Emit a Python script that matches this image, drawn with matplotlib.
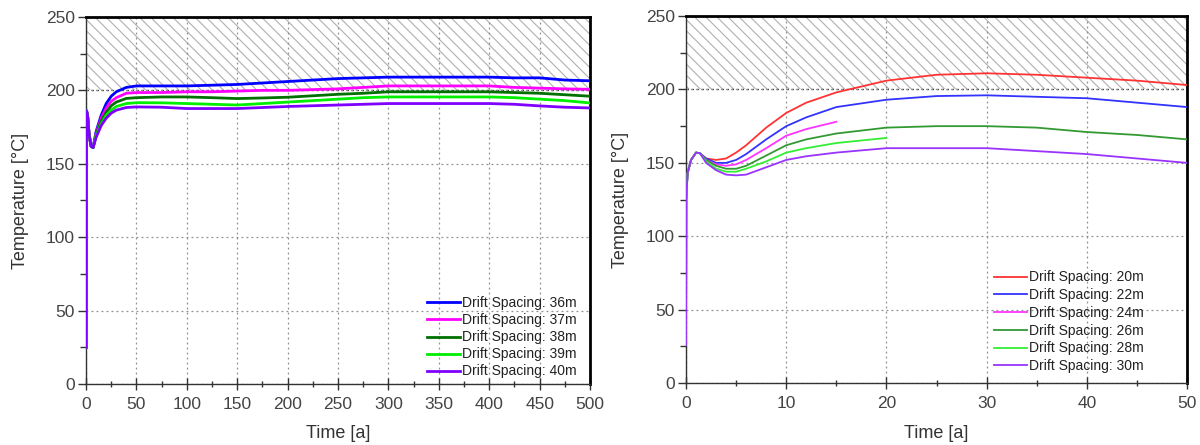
import matplotlib
matplotlib.use("Agg")
import matplotlib.pyplot as plt
from matplotlib.ticker import MultipleLocator

plt.rcParams['font.family'] = ['Liberation Sans', 'DejaVu Sans']
plt.rcParams['hatch.linewidth'] = 0.8
plt.rcParams['hatch.color'] = '#b0b0b0'

# ---------------- Left chart data (Time 0..500 a) ----------------
t_left = [0, 0.5, 1.5, 3, 5, 7, 10, 15, 20, 25, 30, 40, 50, 75, 100, 125, 150, 175, 200,
          225, 250, 275, 300, 350, 400, 425, 450, 475, 500]
left_labels = ["Drift Spacing: 36m", "Drift Spacing: 37m", "Drift Spacing: 38m",
               "Drift Spacing: 39m", "Drift Spacing: 40m"]
left_36 = [25, 186, 183, 170, 162, 161, 172, 183, 191, 196, 199, 202, 203, 203, 203, 203.5, 204, 205, 206,
           207, 208, 208.5, 209, 209, 209, 208.5, 208.5, 207, 206.5]
left_37 = [25, 186, 183, 170, 162, 161, 171, 181, 188, 192.5, 195, 198, 198.5, 198.5, 199, 199, 199.5, 200, 200,
           200.5, 201, 202, 203, 203, 203, 202, 201.5, 201, 200.7]
left_38 = [25, 186, 183, 170, 162, 161, 170, 179, 185, 189.5, 192, 194.5, 195, 195.5, 195.5, 195, 194.4, 194.8, 195.3,
           196.3, 197.3, 198, 199, 199, 199, 198.5, 198, 197, 196]
left_39 = [25, 186, 183, 170, 162, 161, 169, 177, 183, 186.5, 189, 191, 191.6, 191.5, 191, 190.5, 190, 191, 192,
           193, 194, 195, 195.5, 195.5, 195.5, 195, 194, 193, 191.4]
left_40 = [25, 186, 183, 170, 162, 161, 168, 176, 181, 184.5, 186.5, 188.3, 188.7, 188.5, 187.6, 187.6, 187.6, 188.3, 189,
           189.5, 190, 190.5, 191, 191, 191, 190.5, 189.4, 188.5, 188]
left_series = [left_36, left_37, left_38, left_39, left_40]
left_colors = ['#0000ff', '#ff00ff', '#007000', '#00ee00', '#8000ff']

# ---------------- Right chart data (Time 0..50 a) ----------------
t_right = [0, 0.02, 0.15, 0.5, 1.0, 1.4, 2, 3, 4, 5, 6, 8, 10, 12, 15, 20, 25, 30, 35, 40, 45, 50]
right_labels = ["Drift Spacing: 20m", "Drift Spacing: 22m", "Drift Spacing: 24m",
                "Drift Spacing: 26m", "Drift Spacing: 28m", "Drift Spacing: 30m"]
right_20 = [26, 125, 143, 152, 157, 156.5, 153, 152, 153, 157, 162, 174, 184, 191, 198, 206, 210, 211, 210, 208, 206, 203]
right_22 = [26, 125, 143, 152, 157, 156.5, 153, 150, 150, 152, 156, 166, 175, 181, 188, 193, 195.5, 196, 195, 194, 191, 188]
right_24 = [26, 125, 143, 152, 157, 156.5, 152, 149, 148, 149, 152, 160, 168.5, 173, 178]
right_26 = [26, 125, 143, 152, 157, 156.5, 152, 148, 146, 146, 148, 155, 162, 166, 170, 174, 175, 175, 174, 171, 169, 166]
right_28 = [26, 125, 143, 152, 157, 156.5, 151, 146, 144, 144, 146, 151, 157, 160, 163.5, 167]
right_30 = [26, 125, 143, 152, 157, 156.5, 150, 145, 142, 141.5, 142, 147, 152, 154.5, 157, 160, 160, 160, 158, 156, 153, 150]
right_series = [right_20, right_22, right_24, right_26, right_28, right_30]
right_colors = ['#ff3333', '#3333ff', '#ff33ff', '#339933', '#33ee33', '#9933ff']

fig = plt.figure(figsize=(12, 4.45), dpi=100)
ax1 = fig.add_axes([0.0717, 0.137, 0.42, 0.825])
ax2 = fig.add_axes([0.5717, 0.139, 0.4175, 0.825])


def style(ax, xmax, xmajor, xminor):
    ax.set_xlim(0, xmax)
    ax.set_ylim(0, 250)
    ax.fill_between([0, xmax], 200, 250, facecolor='none', edgecolor='#b0b0b0',
                    hatch='\\\\\\', linewidth=0, zorder=0)
    ax.axhline(200, color='#222222', linestyle=(0, (2, 2)), linewidth=0.9, zorder=1)
    ax.xaxis.set_major_locator(MultipleLocator(xmajor))
    ax.xaxis.set_minor_locator(MultipleLocator(xminor))
    ax.yaxis.set_major_locator(MultipleLocator(50))
    ax.yaxis.set_minor_locator(MultipleLocator(25))
    ax.grid(True, which='major', color='#909090', linestyle=(0, (1.5, 2.5)), linewidth=0.9, zorder=0)
    ax.tick_params(axis='x', which='major', direction='inout', length=8, width=1, colors='#333333',
                   labelsize=12.5, labelcolor='#444444', pad=5)
    ax.tick_params(axis='x', which='minor', direction='inout', length=4, width=1, colors='#333333')
    ax.tick_params(axis='y', which='major', direction='out', length=6, width=1, colors='#333333',
                   labelsize=12.5, labelcolor='#444444', pad=2)
    ax.tick_params(axis='y', which='minor', direction='out', length=4, width=1, colors='#333333')
    for s in ['left', 'bottom']:
        ax.spines[s].set_color('#333333')
        ax.spines[s].set_linewidth(1.0)
    for s in ['top', 'right']:
        ax.spines[s].set_color('black')
        ax.spines[s].set_linewidth(2.0)
    ax.set_xlabel('Time [a]', fontsize=13, color='#333333', labelpad=10)
    ax.set_ylabel('Temperature [°C]', fontsize=13, color='#333333', labelpad=12)


style(ax1, 500, 50, 25)
style(ax2, 50, 10, 5)

for y, c, lab in zip(left_series, left_colors, left_labels):
    ax1.plot(t_left[:len(y)], y, color=c, linewidth=2.0, label=lab, zorder=3)
for y, c, lab in zip(right_series, right_colors, right_labels):
    ax2.plot(t_right[:len(y)], y, color=c, linewidth=1.3, label=lab, zorder=3)

leg1 = ax1.legend(loc='lower right', frameon=False, fontsize=10, labelspacing=0.22,
                  handlelength=2.4, handletextpad=0.15, borderaxespad=0.0,
                  bbox_to_anchor=(0.985, 0.0))
for t in leg1.get_texts():
    t.set_color('#222222')
leg2 = ax2.legend(loc='lower right', frameon=False, fontsize=10, labelspacing=0.27,
                  handlelength=2.4, handletextpad=0.15, borderaxespad=0.0,
                  bbox_to_anchor=(0.925, 0.012))
for t in leg2.get_texts():
    t.set_color('#222222')

fig.savefig('out.png', dpi=100)
